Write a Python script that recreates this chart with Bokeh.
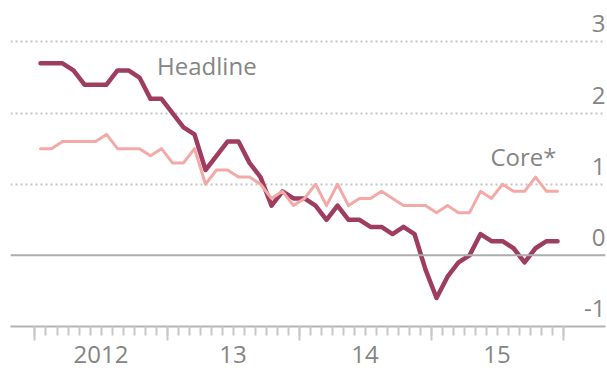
from bokeh.plotting import figure
from bokeh.models import FixedTicker, Grid, Span, LinearAxis, Label, ColumnDataSource, Range1d
from bokeh.embed import file_html
from bokeh.resources import INLINE
from bokeh.core.properties import value

# ---- data: monthly, Jan 2012 (index 0) .. Dec 2015 (index 47) ----
months = list(range(48))
headline = [2.7, 2.7, 2.7, 2.6, 2.4, 2.4, 2.4, 2.6, 2.6, 2.5, 2.2, 2.2,
            2.0, 1.8, 1.7, 1.2, 1.4, 1.6, 1.6, 1.3, 1.1, 0.7, 0.9, 0.8,
            0.8, 0.7, 0.5, 0.7, 0.5, 0.5, 0.4, 0.4, 0.3, 0.4, 0.3, -0.2,
            -0.6, -0.3, -0.1, 0.0, 0.3, 0.2, 0.2, 0.1, -0.1, 0.1, 0.2, 0.2]
core = [1.5, 1.5, 1.6, 1.6, 1.6, 1.6, 1.7, 1.5, 1.5, 1.5, 1.4, 1.5,
        1.3, 1.3, 1.5, 1.0, 1.2, 1.2, 1.1, 1.1, 1.0, 0.8, 0.9, 0.7,
        0.8, 1.0, 0.7, 1.0, 0.7, 0.8, 0.8, 0.9, 0.8, 0.7, 0.7, 0.7,
        0.6, 0.7, 0.6, 0.6, 0.9, 0.8, 1.0, 0.9, 0.9, 1.1, 0.9, 0.9]

year_labels = ["2012", "13", "14", "15"]
y_ticks = [-1, 0, 1, 2, 3]
y_tick_labels = ["-1", "0", "1", "2", "3"]
dotted_levels = [1, 2, 3]

# ---- derived tick positions ----
month_bounds = [m - 0.5 for m in range(len(months) + 1)]
year_bounds = [m - 0.5 for m in range(0, len(months) + 1, 12)]
year_mids = [m + 5.5 for m in range(0, len(months), 12)]

FONT = "Open Sans"
GREY_TXT = "#858585"
HEAD_C = "#9e3d60"
CORE_C = "#f3a9a6"
FS = "24px"

x0, x1 = -2.727, 51.36
p = figure(frame_width=595, frame_height=313,
           x_range=Range1d(x0, x1), y_range=Range1d(-1, 3.40),
           output_backend="svg", toolbar_location=None,
           x_axis_location=None, y_axis_location=None,
           min_border_left=10, min_border_right=2, min_border_top=13, min_border_bottom=48)
p.outline_line_color = None
p.background_fill_color = "white"
p.border_fill_color = "white"
p.center = [r for r in p.center if not isinstance(r, Grid)]

# grid: dotted at 1,2,3 ; solid zero line
p.add_layout(Grid(dimension=1, ticker=FixedTicker(ticks=dotted_levels),
                  grid_line_color="#c4c4c4", grid_line_dash="2 3", grid_line_width=2))
p.add_layout(Span(location=0, dimension="width", line_color="#acacac", line_width=2))

# x axis: month ticks (taller at year boundaries) + year labels
axA = LinearAxis(ticker=FixedTicker(ticks=year_bounds, minor_ticks=month_bounds),
                 major_label_overrides={t: "" for t in year_bounds},
                 axis_line_color="#b4b4b4", axis_line_width=2,
                 major_tick_line_color="#c8c8c8", major_tick_line_width=2,
                 major_tick_out=14, major_tick_in=0,
                 minor_tick_line_color="#c8c8c8", minor_tick_line_width=2,
                 minor_tick_out=9, minor_tick_in=0,
                 major_label_text_font_size="1px", major_label_standoff=0)
p.add_layout(axA, "below")
axB = LinearAxis(ticker=FixedTicker(ticks=year_mids, minor_ticks=[]),
                 major_label_overrides={t: lab for t, lab in zip(year_mids, year_labels)},
                 axis_line_color=None, major_tick_line_color=None, minor_tick_line_color=None,
                 major_tick_out=0, major_tick_in=0, minor_tick_out=0,
                 major_label_text_font=FONT, major_label_text_font_size=FS,
                 major_label_text_color=GREY_TXT, major_label_standoff=5)
p.add_layout(axB, "below")

# series
p.line(months, headline, line_color=HEAD_C, line_width=4.5, line_join="round", line_cap="round")
p.line(months, core, line_color=CORE_C, line_width=3, line_join="round", line_cap="round")

# right-hand value labels sitting above each gridline
ysrc = ColumnDataSource(dict(x=[x1] * len(y_ticks), y=y_ticks, t=y_tick_labels))
p.text(x="x", y="y", text="t", source=ysrc, text_align="right", text_baseline="middle",
       x_offset=0, y_offset=-18, text_font=value(FONT), text_font_size=FS,
       text_color=GREY_TXT)

# series labels
p.add_layout(Label(x=10.6, y=2.67, text="Headline", text_align="left", text_baseline="middle",
                   text_font=FONT, text_font_size=FS, text_color=GREY_TXT))
p.add_layout(Label(x=46.9, y=1.39, text="Core*", text_align="right", text_baseline="middle",
                   text_font=FONT, text_font_size=FS, text_color=GREY_TXT))

open("out.html", "w").write(file_html(p, INLINE))
